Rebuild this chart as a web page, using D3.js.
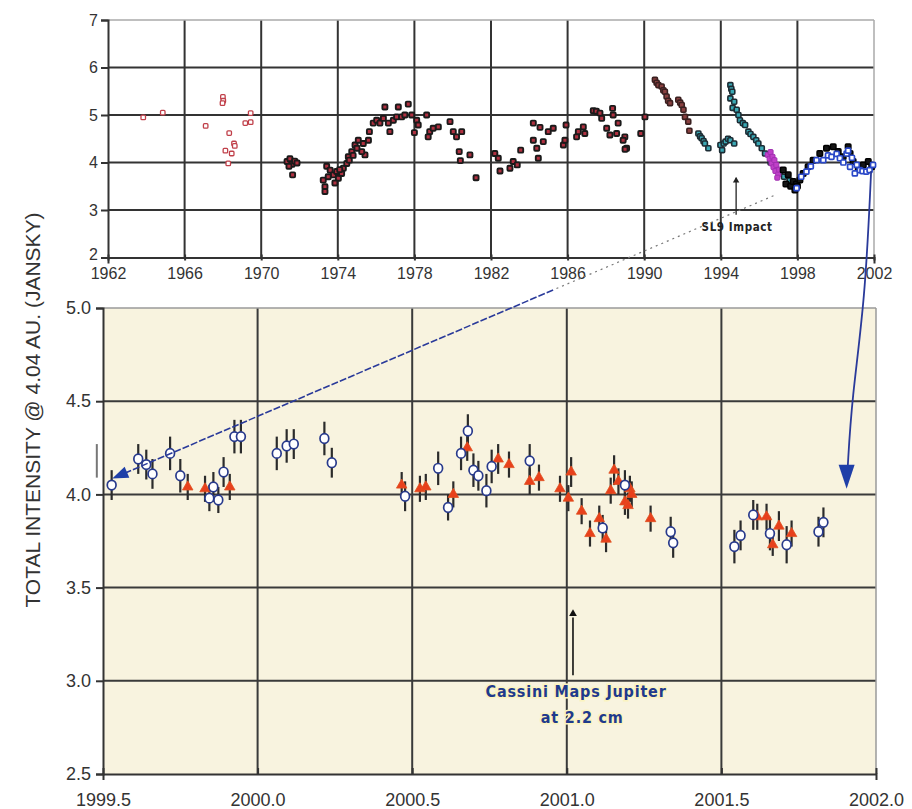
<!DOCTYPE html>
<html><head><meta charset="utf-8">
<script src="https://cdn.jsdelivr.net/npm/d3@7"></script>
<style>
body{margin:0;background:#fff;}
svg{display:block;font-family:"Liberation Sans",Arial,sans-serif;}
</style></head><body>
<svg id="c" width="912" height="809"></svg>
<script>
// ---------- TOP PANEL DATA (year, Jy) ----------
const earlyYears=[1963.84,1964.86,1967.10,1968.00,1968.02,1967.98,1968.33,1968.13,1968.46,1968.58,1968.62,1968.28,1969.17,1969.45,1969.45];
const earlyVals =[4.95,5.05,4.77,5.38,5.30,5.25,4.62,4.25,4.19,4.40,4.35,3.98,4.83,4.85,5.04];

const darkYears=[1971.35,1971.5,1971.6,1971.75,1971.87,1971.45,1971.64,
1973.24,1973.33,1973.33,1973.42,1973.6,1973.77,1973.94,1974.03,1974.2,1974.29,1974.47,1974.55,1974.73,1974.9,1975.07,1975.33,1975.42,1975.6,1975.65,1975.25,1973.85,1973.5,1974.1,1974.6,1974.8,1975.0,
1975.85,1976.03,1976.2,1976.38,1976.46,1976.64,1976.72,1976.9,1977.07,1977.16,1977.33,1977.5,1977.68,1977.86,1978.12,1978.2,1978.0,1978.64,1978.8,1978.98,1978.72,
1979.25,1979.86,1980.03,1980.2,1980.47,1980.34,1980.9,1980.4,1981.22,1982.2,1982.38,1982.47,1982.99,1983.16,1983.37,1983.55,1984.21,1984.56,1984.21,1984.73,1984.39,1984.47,1984.99,1985.25,1985.92,1985.78,1985.86,1986.47,1986.56,1986.82,1986.9,1987.34,1987.5,1987.69,1987.78,1988.35,1988.38,1988.04,1988.21,1988.64,1988.56,1988.99,1988.9,1989.08,1989.0,1989.82,1990.04];
const darkVals=[4.02,4.08,3.96,4.03,3.99,3.92,3.74,
3.63,3.49,3.39,3.92,3.84,3.74,3.81,3.67,3.77,3.88,3.98,4.12,4.23,4.37,4.47,4.40,4.16,4.47,4.65,4.23,3.57,3.70,3.85,4.05,4.15,4.30,
4.83,4.89,4.83,4.93,5.17,4.83,4.65,4.89,4.96,5.17,4.96,5.0,5.23,5.0,4.89,4.79,4.63,5.0,4.65,4.72,4.54,
4.75,4.86,4.65,4.54,4.65,4.23,4.16,4.04,3.68,4.19,4.09,3.82,3.88,4.02,3.95,4.26,4.83,4.74,4.47,4.44,4.30,4.09,4.65,4.72,4.79,4.37,4.47,4.54,4.65,4.75,4.61,5.09,5.08,5.04,4.93,5.14,5.0,4.72,4.58,4.83,4.61,4.54,4.47,4.30,4.28,4.61,4.96];

const brownYears=[1990.56,1990.65,1990.74,1990.91,1991.0,1991.08,1991.17,1991.25,1991.35,1991.78,1991.88,1991.96,1992.05,1992.13,1992.3,1992.36];
const brownVals =[5.74,5.68,5.63,5.60,5.52,5.49,5.39,5.30,5.25,5.32,5.26,5.21,5.11,4.96,4.86,4.67];

const tealYears=[1992.83,1992.92,1993.0,1993.1,1993.17,1993.35,1993.98,1994.07,1994.15,1994.25,1994.38,1994.5,1994.7,1994.5,1994.55,1994.6,1994.5,1994.7,1994.62,1994.83,1994.92,1995.0,1995.15,1995.27,1995.44,1995.55,1995.7,1995.85,1995.96,1996.14,1996.31,1996.6,1996.9,1997.1,1997.3,1997.6];
const tealVals =[4.61,4.55,4.51,4.45,4.40,4.30,4.37,4.26,4.40,4.44,4.50,4.47,4.40,5.63,5.55,5.49,5.35,5.28,5.15,5.11,5.0,4.89,4.83,4.79,4.65,4.60,4.54,4.47,4.40,4.30,4.19,4.0,3.85,3.80,3.70,3.62];

const magYears=[1996.45,1996.55,1996.6,1996.65,1996.7,1996.75,1996.8,1996.85,1996.9,1997.0,1996.95,1997.05];
const magVals =[4.16,4.08,4.22,3.98,4.12,3.90,4.05,3.82,3.95,3.75,3.68,3.85];

const blackYears=[1997.26,1997.4,1997.52,1997.65,1997.78,1997.87,1997.95,1998.0,1998.13,1998.3,1998.56,1998.82,1999.17,1999.52,1999.87,2000.13,2000.39,2000.65,2000.75,2000.91,2001.18,2001.44,2001.7,2001.88];
const blackVals =[3.84,3.55,3.74,3.50,3.60,3.42,3.55,3.50,3.63,3.77,3.91,4.05,4.19,4.30,4.33,4.23,4.12,4.33,4.19,4.02,3.88,3.95,4.02,3.91];

const blueYears=[1997.96,1998.2,1998.47,1998.7,1999.0,1999.35,1999.6,1999.78,2000.05,2000.22,2000.4,2000.57,2000.65,2000.75,2000.85,2001.0,2001.1,2001.26,2001.4,2001.6,2001.77,2001.95];
const blueVals =[3.46,3.70,3.81,3.92,4.05,4.05,4.15,4.12,4.18,4.09,4.00,4.19,4.25,3.91,4.10,3.77,3.95,3.84,3.82,3.81,3.84,3.95];

const topXTicks=[1962,1966,1970,1974,1978,1982,1986,1990,1994,1998,2002];
const topYTicks=[2,3,4,5,6,7];

// ---------- BOTTOM PANEL DATA ----------
const circYears=[1999.528,1999.614,1999.64,1999.66,1999.717,1999.75,1999.844,1999.857,1999.873,1999.89,1999.925,1999.946,2000.062,2000.094,2000.117,2000.216,2000.24,2000.477,2000.584,2000.616,2000.658,2000.68,2000.698,2000.714,2000.74,2000.757,2000.88,2001.116,2001.188,2001.336,2001.344,2001.542,2001.562,2001.603,2001.657,2001.711,2001.814,2001.83];
const circVals =[4.05,4.19,4.16,4.11,4.22,4.10,3.98,4.04,3.97,4.12,4.31,4.31,4.22,4.26,4.27,4.30,4.17,3.99,4.14,3.93,4.22,4.34,4.13,4.10,4.02,4.15,4.18,3.82,4.05,3.80,3.74,3.72,3.78,3.89,3.79,3.73,3.80,3.85];
const circErrs =[0.08,0.08,0.08,0.08,0.09,0.09,0.07,0.08,0.07,0.08,0.09,0.09,0.09,0.09,0.08,0.09,0.08,0.08,0.09,0.07,0.09,0.09,0.09,0.08,0.09,0.09,0.09,0.07,0.08,0.08,0.08,0.09,0.08,0.08,0.09,0.10,0.08,0.08];

const triYears=[1999.774,1999.83,1999.91,2000.466,2000.525,2000.544,2000.633,2000.678,2000.778,2000.813,2000.88,2000.91,2000.978,2001.005,2001.014,2001.048,2001.075,2001.105,2001.127,2001.142,2001.153,2001.167,2001.188,2001.198,2001.204,2001.21,2001.271,2001.616,2001.646,2001.666,2001.686,2001.727];
const triVals =[4.04,4.03,4.04,4.05,4.03,4.04,4.00,4.25,4.19,4.16,4.07,4.09,4.03,3.98,4.12,3.91,3.79,3.87,3.76,4.02,4.13,4.07,3.96,3.94,4.03,4.00,3.87,3.88,3.88,3.73,3.83,3.79];
const triErrs =[0.07,0.07,0.07,0.07,0.07,0.07,0.07,0.07,0.08,0.07,0.07,0.07,0.07,0.07,0.08,0.07,0.07,0.07,0.07,0.07,0.08,0.07,0.07,0.07,0.07,0.07,0.07,0.07,0.07,0.06,0.08,0.07];

const botXTicks=[1999.5,2000.0,2000.5,2001.0,2001.5,2002.0];
const botYTicks=[2.5,3.0,3.5,4.0,4.5,5.0];

const yTitle="TOTAL INTENSITY @ 4.04 AU. (JANSKY)";

// ---------- SCALES ----------
const svg=d3.select("#c");
const xT=d3.scaleLinear().domain([1962,2002]).range([108,874]);
const yT=d3.scaleLinear().domain([2,7]).range([257.5,20]);
const xB=d3.scaleLinear().domain([1999.5,2002]).range([103,876]);
const yB=d3.scaleLinear().domain([2.5,5]).range([774,308]);

const zip=(a,b)=>a.map((v,i)=>[v,b[i]]);
const FONT="Liberation Sans, Arial";

// ---------- BOTTOM PANEL ----------
const gB=svg.append("g");
gB.append("rect").attr("x",xB(1999.5)).attr("y",yB(5)).attr("width",xB(2002)-xB(1999.5)).attr("height",yB(2.5)-yB(5)).attr("fill","#f8f3df");
gB.selectAll("line.vg").data(botXTicks.slice(1,-1)).join("line")
 .attr("x1",d=>xB(d)).attr("x2",d=>xB(d)).attr("y1",yB(5)).attr("y2",yB(2.5))
 .attr("stroke","#3a3a3a").attr("stroke-width",2);
gB.selectAll("line.hg").data(botYTicks.slice(1,-1)).join("line")
 .attr("x1",xB(1999.5)).attr("x2",xB(2002)).attr("y1",d=>yB(d)).attr("y2",d=>yB(d))
 .attr("stroke","#3a3a3a").attr("stroke-width",2);
gB.append("line").attr("x1",xB(1999.5)).attr("x2",xB(2002)).attr("y1",yB(5)).attr("y2",yB(5)).attr("stroke","#9a9a9a").attr("stroke-width",1.5);
gB.append("line").attr("x1",xB(2002)).attr("x2",xB(2002)).attr("y1",yB(5)).attr("y2",yB(2.5)).attr("stroke","#9a9a9a").attr("stroke-width",1.5);
const axBx=d3.axisBottom(xB).tickValues(botXTicks).tickFormat(d3.format(".1f")).tickSize(6).tickPadding(13);
const axBy=d3.axisLeft(yB).tickValues(botYTicks).tickFormat(d3.format(".1f")).tickSize(7).tickPadding(5);
const gbx=gB.append("g").attr("transform",`translate(0,${yB(2.5)})`).call(axBx);
const gby=gB.append("g").attr("transform",`translate(${xB(1999.5)},0)`).call(axBy);
[gbx,gby].forEach(g=>{g.select(".domain").attr("stroke","#333").attr("stroke-width",2);
 g.selectAll(".tick line").attr("stroke","#333").attr("stroke-width",2);
 g.selectAll("text").attr("font-size",18).attr("fill","#333").attr("font-family",FONT);});
gbx.selectAll(".tick line").attr("transform","translate(0,-6)");

gB.append("line").attr("x1",xB(1999.48)).attr("x2",xB(1999.48)).attr("y1",yB(4.27)).attr("y2",yB(4.09)).attr("stroke","#777").attr("stroke-width",2);

const circ=circYears.map((y,i)=>({x:y,v:circVals[i],e:circErrs[i]}));
const tri=triYears.map((y,i)=>({x:y,v:triVals[i],e:triErrs[i]}));
gB.selectAll("line.eb").data(circ.concat(tri)).join("line")
 .attr("x1",d=>xB(d.x)).attr("x2",d=>xB(d.x)).attr("y1",d=>yB(d.v-d.e)).attr("y2",d=>yB(d.v+d.e))
 .attr("stroke","#2b2b2b").attr("stroke-width",2.2);
gB.selectAll("path.tri").data(tri).join("path")
 .attr("d",d3.symbol(d3.symbolTriangle,48))
 .attr("transform",d=>`translate(${xB(d.x)},${yB(d.v)})`)
 .attr("fill","#e8401c").attr("stroke","#e05020").attr("stroke-width",0.8);
gB.selectAll("ellipse.c").data(circ).join("ellipse")
 .attr("cx",d=>xB(d.x)).attr("cy",d=>yB(d.v)).attr("rx",4.4).attr("ry",4.8)
 .attr("fill","#fff").attr("stroke","#283a8c").attr("stroke-width",1.7);

// ---------- TOP PANEL ----------
const gT=svg.append("g");
gT.selectAll("line.vg").data(topXTicks.slice(1,-1)).join("line")
 .attr("x1",d=>xT(d)).attr("x2",d=>xT(d)).attr("y1",yT(7)).attr("y2",yT(2))
 .attr("stroke","#333").attr("stroke-width",2);
gT.selectAll("line.hg").data(topYTicks.slice(1,-1)).join("line")
 .attr("x1",xT(1962)).attr("x2",xT(2002)).attr("y1",d=>yT(d)).attr("y2",d=>yT(d))
 .attr("stroke","#333").attr("stroke-width",2);
gT.append("line").attr("x1",xT(1962)).attr("x2",xT(2002)).attr("y1",yT(7)).attr("y2",yT(7)).attr("stroke","#aaa").attr("stroke-width",1.5);
gT.append("line").attr("x1",xT(2002)).attr("x2",xT(2002)).attr("y1",yT(7)).attr("y2",yT(2)).attr("stroke","#aaa").attr("stroke-width",1.5);
const axTx=d3.axisBottom(xT).tickValues(topXTicks).tickFormat(d3.format("d")).tickSize(6).tickPadding(4);
const axTy=d3.axisLeft(yT).tickValues(topYTicks).tickFormat(d3.format("d")).tickSize(7).tickPadding(3);
const gtx=gT.append("g").attr("transform",`translate(0,${yT(2)})`).call(axTx);
const gty=gT.append("g").attr("transform",`translate(${xT(1962)},0)`).call(axTy);
[gtx,gty].forEach(g=>{g.select(".domain").attr("stroke","#333").attr("stroke-width",2);
 g.selectAll(".tick line").attr("stroke","#333").attr("stroke-width",2);
 g.selectAll("text").attr("font-size",16).attr("fill","#333").attr("font-family",FONT);});
gtx.selectAll(".tick line").attr("transform","translate(0,-3)");
gty.selectAll(".tick text").filter(d=>d===2).attr("dy","0.1em");

function squares(ys,vs,size,fill,stroke,sw){
  gT.append("g").selectAll("rect").data(zip(ys,vs)).join("rect")
   .attr("x",d=>xT(d[0])-size/2).attr("y",d=>yT(d[1])-size/2)
   .attr("width",size).attr("height",size).attr("rx",1)
   .attr("fill",fill).attr("stroke",stroke).attr("stroke-width",sw);
}
squares(earlyYears,earlyVals,4.5,"#fff","#c0404a",1.3);
squares(darkYears,darkVals,5,"#b03040","#1a1a1a",1.9);
squares(brownYears,brownVals,5,"#8a4040","#3a2020",1.6);
squares(tealYears,tealVals,5,"#3aa8b4","#1c2c34",1.6);
squares(magYears,magVals,5,"#c040c8","#a030b0",1);
squares(blackYears,blackVals,5.5,"#151515","#000",1.5);
squares(blueYears,blueVals,5,"#fff","#2a48c8",1.7);

// SL9 annotation
const sl9X=1994.8;
gT.append("line").attr("x1",xT(sl9X)).attr("x2",xT(sl9X)).attr("y1",yT(2.9)).attr("y2",yT(3.68)).attr("stroke","#222").attr("stroke-width",1.3);
gT.append("path").attr("d",d3.symbol(d3.symbolTriangle,18)).attr("transform",`translate(${xT(sl9X)},${yT(3.68)+3})`).attr("fill","#222");
gT.append("text").attr("x",xT(1994.85)).attr("y",yT(2.55)).attr("text-anchor","middle")
 .attr("font-size",11.5).attr("font-weight","bold").attr("letter-spacing",0.6).attr("fill","#222")
 .attr("font-family","DejaVu Sans Condensed, Arial").text("SL9 Impact");

// ---------- CONNECTING ARROWS ----------
const p0=[xT(1996.75),yT(3.3)], p1=[xB(1999.53),yB(4.085)];
const tSplit=(290-p0[1])/(p1[1]-p0[1]);
const pm=[p0[0]+(p1[0]-p0[0])*tSplit,290];
svg.append("line").attr("x1",p0[0]).attr("y1",p0[1]).attr("x2",pm[0]).attr("y2",pm[1])
 .attr("stroke","#777").attr("stroke-width",1.2).attr("stroke-dasharray","2,4");
svg.append("line").attr("x1",pm[0]).attr("y1",pm[1]).attr("x2",p1[0]+8).attr("y2",p1[1]-3.5)
 .attr("stroke","#2a3a9a").attr("stroke-width",1.6).attr("stroke-dasharray","7,2");
const ang1=Math.atan2(p1[1]-p0[1],p1[0]-p0[0])*180/Math.PI;
svg.append("path").attr("d","M0,0 L-16,-6 L-16,6 Z").attr("transform",`translate(${p1[0]},${p1[1]}) rotate(${ang1})`).attr("fill","#1f3fa8");

const q0=[xT(2001.85),yT(3.82)], q1=[xB(2001.905),yB(4.03)];
svg.append("path").attr("d",d3.line().curve(d3.curveBasis)([q0,[q0[0]-6,300],[q1[0]+5,400],[q1[0]+1,q1[1]-20]]))
 .attr("fill","none").attr("stroke","#2a3a9a").attr("stroke-width",1.8);
svg.append("path").attr("d","M0,0 L-8,-24 L8,-24 Z").attr("transform",`translate(${q1[0]},${q1[1]})`).attr("fill","#1f3fa8");

// Cassini annotation
const cX=2001.02;
gB.append("line").attr("x1",xB(cX)).attr("x2",xB(cX)).attr("y1",yB(3.03)).attr("y2",yB(3.34)).attr("stroke","#111").attr("stroke-width",1.6);
gB.append("path").attr("d",d3.symbol(d3.symbolTriangle,26)).attr("transform",`translate(${xB(cX)},${yB(3.36)})`).attr("fill","#111");
const ct=gB.append("text").attr("text-anchor","middle").attr("font-size",16).attr("font-weight","bold").attr("letter-spacing",0.8)
 .attr("fill","#1f3a8c").attr("font-family","DejaVu Sans Condensed, Liberation Sans Narrow, Arial")
 .attr("stroke","#fbf3c0").attr("stroke-width",3).attr("paint-order","stroke");
ct.append("tspan").attr("x",xB(2001.03)).attr("y",yB(2.915)).text("Cassini Maps Jupiter");
ct.append("tspan").attr("x",xB(2001.05)).attr("y",yB(2.775)).text("at 2.2 cm");

// Y title
svg.append("text").attr("transform",`translate(40,410) rotate(-90)`).attr("text-anchor","middle")
 .attr("font-size",21).attr("fill","#333").attr("font-family",FONT).text(yTitle);
</script></body></html>
